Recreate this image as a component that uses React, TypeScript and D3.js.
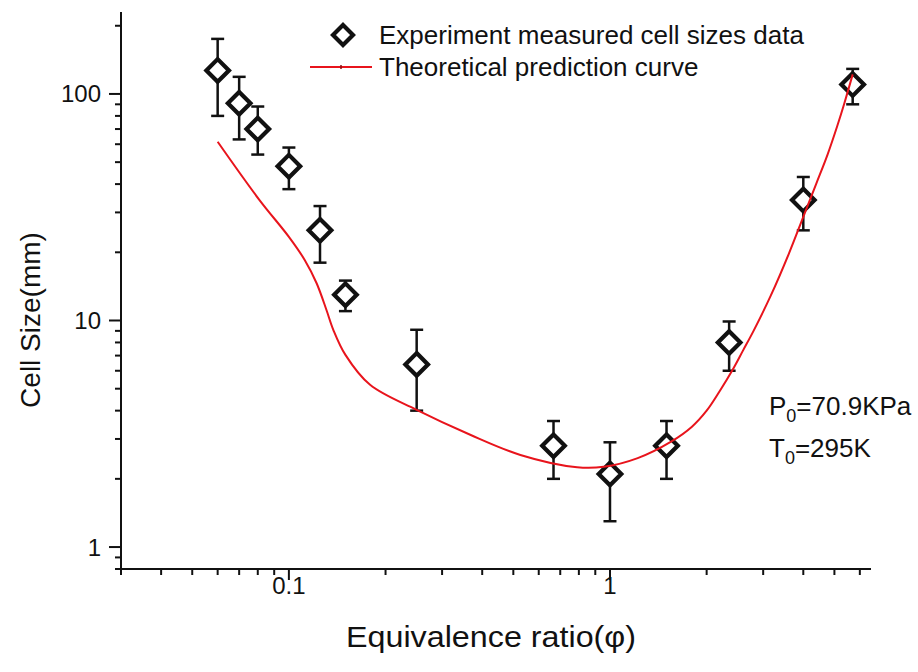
import React from "react";
import * as d3 from "d3";

// ---- data ----
const phi = [0.06, 0.07, 0.08, 0.1, 0.125, 0.15, 0.25, 0.667, 1.0, 1.5, 2.35, 4.0, 5.7];
const cellSize = [127, 91, 70, 48, 25, 13, 6.4, 2.8, 2.1, 2.8, 8.0, 34, 110];
const errUpper = [175, 119, 88, 58, 32, 15, 9.1, 3.6, 2.9, 3.6, 9.9, 43, 129];
const errLower = [80, 63, 54, 38, 18, 11, 4.0, 2.0, 1.3, 2.0, 6.0, 25, 90];

const curvePhi = [0.06, 0.081, 0.1, 0.112, 0.122, 0.131, 0.1375, 0.15, 0.179, 0.25, 0.367, 0.526, 0.79, 0.956, 1.22, 1.55, 1.8, 2.0, 2.2, 2.4, 2.6, 2.8, 3.17, 3.6, 4.0, 4.4, 4.76, 5.1, 5.37, 5.7];
const curveSize = [61.5, 34, 23.4, 18.5, 14.6, 11.1, 9.1, 7.05, 5.2, 4.03, 3.13, 2.55, 2.25, 2.26, 2.47, 2.92, 3.4, 4.0, 4.9, 6.0, 7.4, 9.0, 12.9, 19.6, 28.7, 40.5, 54, 72, 91, 122];

const xTickLabels = ["0.1", "1"];
const yTickLabels = ["1", "10", "100"];

const legendLabels = ["Experiment measured cell sizes data", "Theoretical prediction curve"];
const xTitle = "Equivalence ratio(φ)";
const yTitle = "Cell Size(mm)";

const FONT = "'Liberation Sans', Arial, sans-serif";
const RED = "#e8141c";
const INK = "#111";

export default function App() {
  const W = 918, H = 672;
  const x = d3.scaleLog().domain([0.03, 6.5]).range([121, 871]);
  const y = d3.scaleLog().domain([0.8, 230]).range([569, 12]);

  const xTicks = x.ticks();
  const yTicks = y.ticks();
  const isMajor = (v: number) => Math.abs(Math.log10(v) - Math.round(Math.log10(v))) < 1e-6;

  const line = d3
    .line<number>()
    .x((_, i) => x(curvePhi[i]))
    .y((_, i) => y(curveSize[i]))
    .curve(d3.curveCatmullRom.alpha(0.5));

  const diamond = (cx: number, cy: number, r: number) =>
    `M${cx},${cy - r}L${cx + r},${cy}L${cx},${cy + r}L${cx - r},${cy}Z`;

  const x0 = x.range()[0], x1 = x.range()[1];
  const yb = y.range()[0], yt = y.range()[1];

  return (
    <svg width={W} height={H} style={{ position: "absolute", left: 0, top: 0, background: "#fff" }} fontFamily={FONT}>
      <rect x={0} y={0} width={W} height={H} fill="#fff" />
      {/* axes */}
      <line x1={x0} y1={yb} x2={x1} y2={yb} stroke={INK} strokeWidth={2} />
      <line x1={x0} y1={yb} x2={x0} y2={yt} stroke={INK} strokeWidth={2} />
      {xTicks.map((t, i) => (
        <line key={"xt" + i} x1={x(t)} x2={x(t)} y1={yb} y2={yb + (isMajor(t) ? 11 : 6)} stroke={INK} strokeWidth={2} />
      ))}
      {yTicks.map((t, i) => (
        <line key={"yt" + i} y1={y(t)} y2={y(t)} x1={x0} x2={x0 - (isMajor(t) ? 12 : 6)} stroke={INK} strokeWidth={2} />
      ))}
      {xTickLabels.map((l) => (
        <text key={"xl" + l} x={x(+l)} y={yb + 25} fontSize={24} textAnchor="middle" fill={INK}>{l}</text>
      ))}
      {yTickLabels.map((l) => (
        <text key={"yl" + l} x={x0 - 20} y={y(+l) + 8.5} fontSize={24} textAnchor="end" fill={INK}>{l}</text>
      ))}
      <text x={346} y={647} fontSize={29} textLength={290} lengthAdjust="spacingAndGlyphs" fill={INK}>{xTitle}</text>
      <text transform="translate(40,320) rotate(-90)" fontSize={28} textAnchor="middle" fill={INK}>{yTitle}</text>

      {/* error bars */}
      {phi.map((p, i) => {
        const cx = x(p);
        return (
          <g key={"eb" + i} stroke={INK} strokeWidth={2.5}>
            <line x1={cx} x2={cx} y1={y(errUpper[i])} y2={y(errLower[i])} />
            <line x1={cx - 6.5} x2={cx + 6.5} y1={y(errUpper[i])} y2={y(errUpper[i])} />
            <line x1={cx - 6.5} x2={cx + 6.5} y1={y(errLower[i])} y2={y(errLower[i])} />
          </g>
        );
      })}
      {/* markers */}
      {phi.map((p, i) => (
        <path key={"m" + i} d={diamond(x(p), y(cellSize[i]), 11.3)} fill="#fff" stroke={INK} strokeWidth={4.2} strokeLinejoin="miter" />
      ))}
      {/* curve */}
      <path d={line(curvePhi) || ""} fill="none" stroke={RED} strokeWidth={2} />

      {/* legend */}
      <path d={diamond(343, 35, 10)} fill="#fff" stroke={INK} strokeWidth={4.2} />
      <text x={379} y={44} fontSize={26} fill={INK}>{legendLabels[0]}</text>
      <line x1={310} x2={372} y1={67} y2={67} stroke={RED} strokeWidth={2} />
      <line x1={341} x2={341} y1={65} y2={69} stroke="#8a1010" strokeWidth={1.5} />
      <text x={379} y={76} fontSize={26} fill={INK}>{legendLabels[1]}</text>

      {/* annotation */}
      <text x={769} y={415} fontSize={26} fill={INK}>
        P<tspan fontSize={18} dy={7}>0</tspan><tspan dy={-7}>=70.9KPa</tspan>
      </text>
      <text x={769} y={457} fontSize={26} fill={INK}>
        T<tspan fontSize={18} dy={7}>0</tspan><tspan dy={-7}>=295K</tspan>
      </text>
    </svg>
  );
}
